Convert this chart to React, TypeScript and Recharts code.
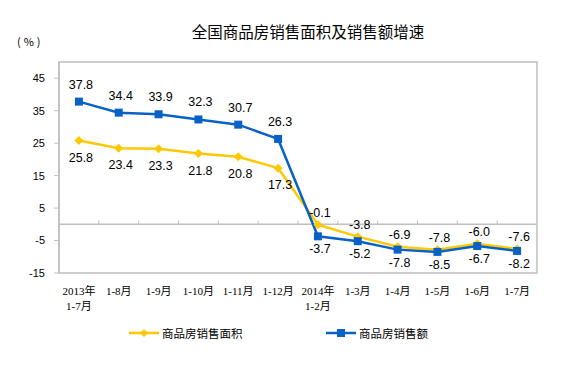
import React from 'react';
import {
  ComposedChart,
  Line,
  XAxis,
  YAxis,
  ReferenceLine,
  ReferenceArea,
  LabelList,
} from 'recharts';

const categories = [
  '2013年\n1-7月',
  '1-8月',
  '1-9月',
  '1-10月',
  '1-11月',
  '1-12月',
  '2014年\n1-2月',
  '1-3月',
  '1-4月',
  '1-5月',
  '1-6月',
  '1-7月',
];
const salesArea = [25.8, 23.4, 23.3, 21.8, 20.8, 17.3, -0.1, -3.8, -6.9, -7.8, -6.0, -7.6];
const salesAmount = [37.8, 34.4, 33.9, 32.3, 30.7, 26.3, -3.7, -5.2, -7.8, -8.5, -6.7, -8.2];
const yTicks = [-15, -5, 5, 15, 25, 35, 45];

const YELLOW = '#FFC800';
const BLUE = '#0862C6';
const FRAME = '#BFBFBF';

const data = categories.map((name, i) => ({
  x: i + 0.5,
  name,
  area: salesArea[i],
  amount: salesAmount[i],
}));

const xTicks = data.map(d => d.x);
const boundaries = categories.slice(1).map((_, i) => i + 1);

const numFont = '"Liberation Sans", Arial, sans-serif';
const cjkFont = '"Liberation Serif", "Noto Sans CJK SC", serif';

function XTick(props: any) {
  const { x, y, payload } = props;
  const idx = Math.round(payload.value - 0.5);
  const lines = (categories[idx] || '').split('\n');
  return (
    <g>
      {lines.map((l, k) => (
        <text
          key={k}
          x={x}
          y={y + 2 + k * 15}
          textAnchor="middle"
          dominantBaseline="central"
          fontSize={11}
          fontFamily={cjkFont}
          fill="#000"
        >
          {l}
        </text>
      ))}
    </g>
  );
}

// labels flip sides once both series cross below zero (from 2014)
function makeLabel(series: 'area' | 'amount') {
  return (props: any) => {
    const { x, y, value, index } = props;
    const early = index < 6;
    let dy: number;
    if (series === 'amount') dy = early ? -17 : 13;
    else dy = early ? 17 : -12;
    return (
      <text
        x={x + 2}
        y={y + dy}
        textAnchor="middle"
        dominantBaseline="central"
        fontSize={12.5}
        fontFamily={numFont}
        fill="#000"
      >
        {Number(value).toFixed(1)}
      </text>
    );
  };
}

function Diamond(props: any) {
  const { cx, cy } = props;
  if (cx == null || cy == null) return null;
  const r = 4.5;
  return (
    <path
      d={`M${cx},${cy - r}L${cx + r},${cy}L${cx},${cy + r}L${cx - r},${cy}Z`}
      fill={YELLOW}
    />
  );
}

function Square(props: any) {
  const { cx, cy } = props;
  if (cx == null || cy == null) return null;
  return <rect x={cx - 4} y={cy - 4} width={8} height={8} fill={BLUE} />;
}

export default function App() {
  return (
    <div
      style={{
        position: 'absolute',
        left: 0,
        top: 0,
        width: 574,
        height: 365,
        background: '#fff',
        fontFamily: '"Noto Sans CJK SC", sans-serif',
      }}
    >
      <div
        style={{
          position: 'absolute',
          left: 0,
          width: 616,
          top: 20,
          textAlign: 'center',
          fontSize: 15.5,
          lineHeight: '22px',
          color: '#000',
        }}
      >
        全国商品房销售面积及销售额增速
      </div>
      <div
        style={{
          position: 'absolute',
          left: 17,
          top: 33,
          fontSize: 11,
          lineHeight: '16px',
          letterSpacing: 3,
          color: '#000',
        }}
      >
        (%)
      </div>

      <ComposedChart
        width={574}
        height={365}
        data={data}
        margin={{ top: 62, right: 37, bottom: 60, left: 9 }}
      >
        <ReferenceArea
          x1={0}
          x2={12}
          y1={-15}
          y2={50}
          fill="none"
          stroke={FRAME}
          strokeWidth={1.5}
          ifOverflow="extendDomain"
        />
        <XAxis
          dataKey="x"
          type="number"
          domain={[0, 12]}
          ticks={xTicks}
          interval={0}
          axisLine={false}
          tickLine={false}
          height={32}
          tick={<XTick />}
          tickMargin={10}
        />
        <YAxis
          type="number"
          domain={[-15, 50]}
          ticks={yTicks}
          interval={0}
          width={50}
          axisLine={{ stroke: FRAME, strokeWidth: 1.5 }}
          tickLine={{ stroke: FRAME }}
          tickSize={5}
          tickMargin={9}
          tick={{ fontSize: 11, fontFamily: numFont, fill: '#000' }}
        />
        <ReferenceLine y={0} stroke={FRAME} strokeWidth={1.5} />
        {boundaries.map(b => (
          <ReferenceLine
            key={b}
            segment={[
              { x: b, y: 0 },
              { x: b, y: 1.2 },
            ]}
            stroke={FRAME}
            strokeWidth={1}
          />
        ))}
        <Line
          dataKey="area"
          stroke={YELLOW}
          strokeWidth={2.5}
          dot={<Diamond />}
          activeDot={false}
          isAnimationActive={false}
        >
          <LabelList dataKey="area" content={makeLabel('area')} />
        </Line>
        <Line
          dataKey="amount"
          stroke={BLUE}
          strokeWidth={2.5}
          dot={<Square />}
          activeDot={false}
          isAnimationActive={false}
        >
          <LabelList dataKey="amount" content={makeLabel('amount')} />
        </Line>
      </ComposedChart>

      <div
        style={{
          position: 'absolute',
          top: 325,
          left: 129,
          display: 'flex',
          alignItems: 'center',
          fontSize: 11.5,
          lineHeight: '16px',
          color: '#000',
        }}
      >
        <svg width={30} height={10} style={{ marginRight: 3 }}>
          <line x1={0} y1={5} x2={30} y2={5} stroke={YELLOW} strokeWidth={2.5} />
          <path d="M15,1L19,5L15,9L11,5Z" fill={YELLOW} />
        </svg>
        商品房销售面积
      </div>
      <div
        style={{
          position: 'absolute',
          top: 325,
          left: 326,
          display: 'flex',
          alignItems: 'center',
          fontSize: 11.5,
          lineHeight: '16px',
          color: '#000',
        }}
      >
        <svg width={30} height={10} style={{ marginRight: 3 }}>
          <line x1={0} y1={5} x2={30} y2={5} stroke={BLUE} strokeWidth={2.5} />
          <rect x={11} y={1} width={8} height={8} fill={BLUE} />
        </svg>
        商品房销售额
      </div>
    </div>
  );
}
